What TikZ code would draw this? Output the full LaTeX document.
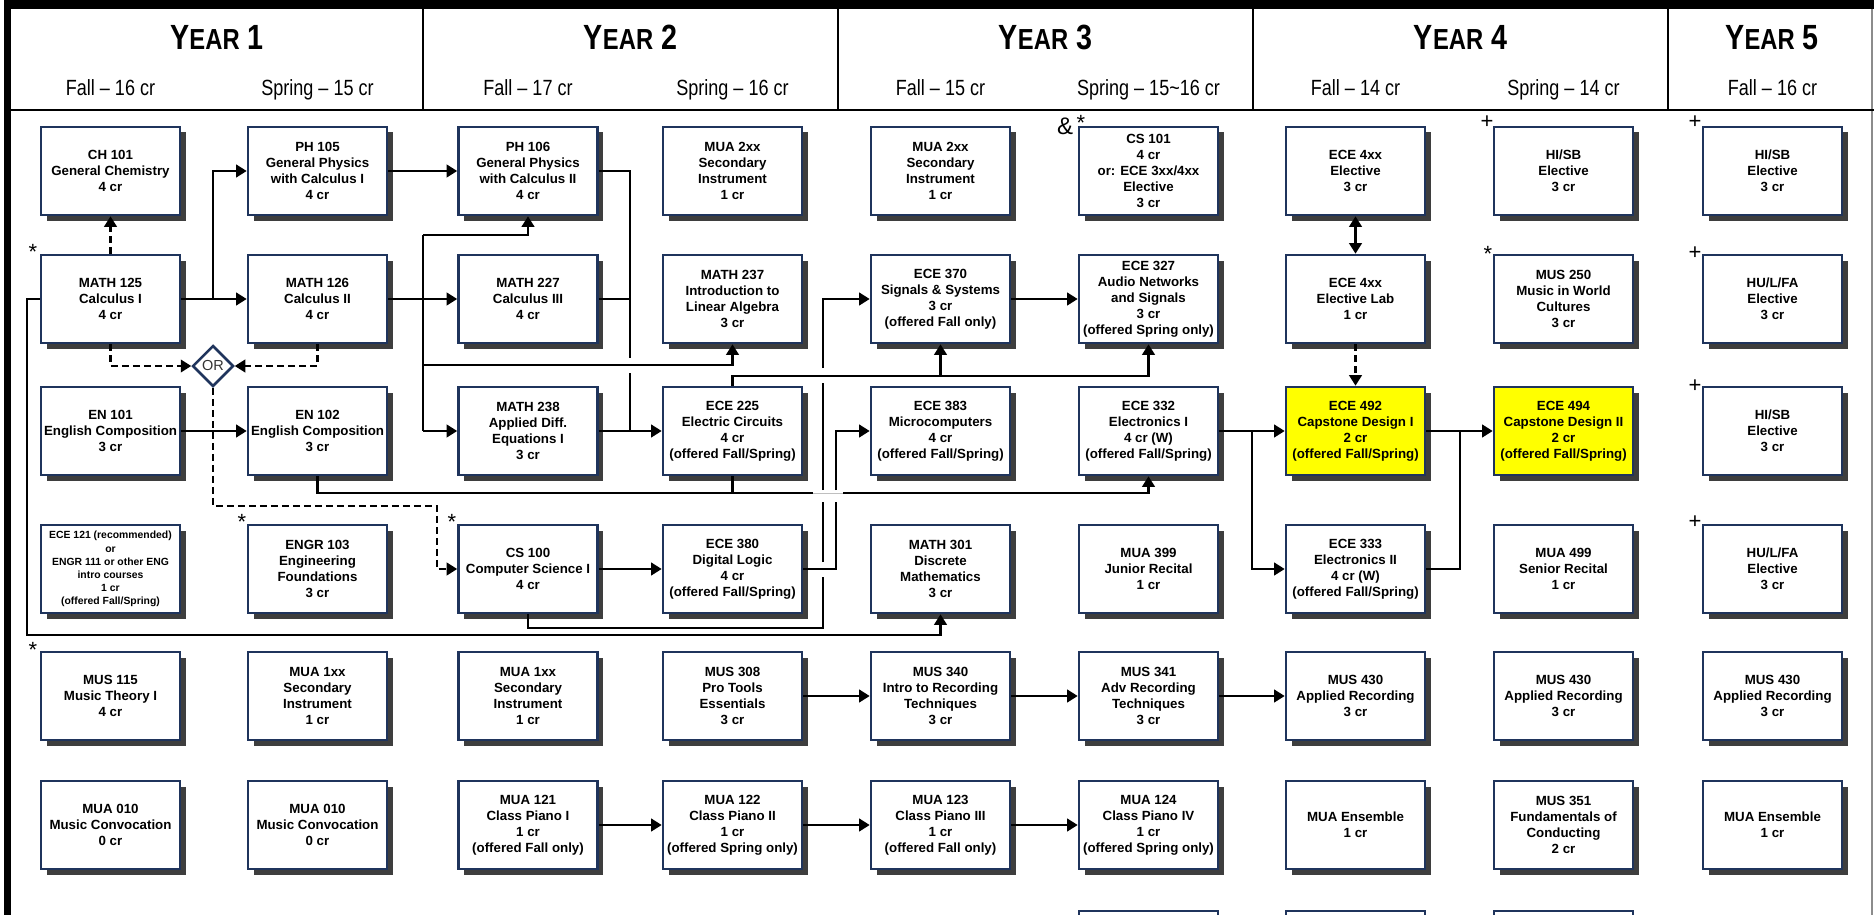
\documentclass[tikz,border=0pt]{standalone}
\usepackage{fontspec}
\usetikzlibrary{arrows.meta,shadows,shapes.geometric}
\newfontfamily\sansf{Liberation Sans}
\newfontfamily\narrowf[FakeStretch=0.82]{Liberation Sans}
\definecolor{navy}{RGB}{31,52,92}
\definecolor{shadowgray}{RGB}{62,62,62}
\definecolor{capyellow}{RGB}{255,255,0}
\newcommand\bxfont{\sansf\bfseries\fontsize{13.3}{16}\selectfont}
\newcommand\smfont{\sansf\bfseries\fontsize{10.4}{13.1}\selectfont}
\newcommand\yr[1]{{\fontsize{35}{35}\selectfont Y}{\fontsize{29}{29}\selectfont EAR}\hspace{8pt}{\fontsize{35}{35}\selectfont #1}}
\begin{document}
\begin{tikzpicture}[x=1pt,y=-1pt,
  course/.style={draw=navy, line width=2.6pt, fill=white, minimum width=139pt, minimum height=88pt,
    inner sep=0pt, align=center, font=\bxfont,
    drop shadow={shadow xshift=5.5pt, shadow yshift=-5.5pt, fill=shadowgray, opacity=1}},
  capstone/.style={course, fill=capyellow},
  ordiamond/.style={diamond, draw=navy, line width=2.5pt, fill=white, minimum width=41pt, minimum height=41pt,
    inner sep=0pt, font=\sansf\fontsize{14.5}{14.5}\selectfont, text=black!80},
  conn/.style={line width=2.3pt, draw=black},
  arr/.style={-{Triangle[length=10.5pt,width=12.5pt]}},
  dblarr/.style={{Triangle[length=10.5pt,width=12.5pt]}-{Triangle[length=10.5pt,width=12.5pt]}},
  dconn/.style={conn, dash pattern=on 7pt off 4pt},
  gapline/.style={line width=1pt, draw=black!25},
  yeartitle/.style={anchor=base, inner sep=0pt, font=\narrowf\bfseries},
  semlabel/.style={anchor=base, inner sep=0pt, font=\narrowf\fontsize{22}{22}\selectfont},
  annot/.style={anchor=base, inner sep=0pt, font=\sansf\fontsize{22}{22}\selectfont},
]
\useasboundingbox (0,0) rectangle (1874,915);
\fill[white] (0,0) rectangle (1874,915);

% ---------- frame and header ----------
\fill[black] (4,0) rectangle (1874,9);
\fill[black] (4,0) rectangle (11,915);
\draw[line width=1.2pt, black!45] (1872,9) -- (1872,915);
\draw[line width=2.5pt] (11,110) -- (1874,110);
\foreach \sx in {423,838,1253,1668} \draw[line width=2pt] (\sx,9) -- (\sx,110);

\node[yeartitle] (yr1) at (217,50) {\yr{1}};
\node[yeartitle] (yr2) at (630.5,50) {\yr{2}};
\node[yeartitle] (yr3) at (1045.5,50) {\yr{3}};
\node[yeartitle] (yr4) at (1460.5,50) {\yr{4}};
\node[yeartitle] (yr5) at (1772,50) {\yr{5}};

\node[semlabel] (sem1) at (110.5,96) {Fall – 16 cr};
\node[semlabel] (sem2) at (317.5,96) {Spring – 15 cr};
\node[semlabel] (sem3) at (528,96) {Fall – 17 cr};
\node[semlabel] (sem4) at (732.5,96) {Spring – 16 cr};
\node[semlabel] (sem5) at (940.5,96) {Fall – 15 cr};
\node[semlabel] (sem6) at (1148.5,96) {Spring – 15\textasciitilde 16 cr};
\node[semlabel] (sem7) at (1355.5,96) {Fall – 14 cr};
\node[semlabel] (sem8) at (1563.5,96) {Spring – 14 cr};
\node[semlabel] (sem9) at (1772.5,96) {Fall – 16 cr};

% ---------- column 1 ----------
\node[course] (ch101) at (110.5,171) {CH 101\\General Chemistry\\4 cr};
\node[course] (m125) at (110.5,299) {MATH 125\\Calculus I\\4 cr};
\node[course] (en101) at (110.5,431) {EN 101\\English Composition\\3 cr};
\node[course, font=\smfont] (ece121) at (110.5,569) {ECE 121 (recommended)\\or\\ENGR 111 or other ENG\\intro courses\\1 cr\\(offered Fall/Spring)};
\node[course] (mus115) at (110.5,696) {MUS 115\\Music Theory I\\4 cr};
\node[course] (mua010a) at (110.5,825) {MUA 010\\Music Convocation\\0 cr};

% ---------- column 2 ----------
\node[course] (ph105) at (317.5,171) {PH 105\\General Physics\\with Calculus I\\4 cr};
\node[course] (m126) at (317.5,299) {MATH 126\\Calculus II\\4 cr};
\node[course] (en102) at (317.5,431) {EN 102\\English Composition\\3 cr};
\node[course] (engr103) at (317.5,569) {ENGR 103\\Engineering\\Foundations\\3 cr};
\node[course] (mua1a) at (317.5,696) {MUA 1xx\\Secondary\\Instrument\\1 cr};
\node[course] (mua010b) at (317.5,825) {MUA 010\\Music Convocation\\0 cr};

% ---------- column 3 ----------
\node[course] (ph106) at (528,171) {PH 106\\General Physics\\with Calculus II\\4 cr};
\node[course] (m227) at (528,299) {MATH 227\\Calculus III\\4 cr};
\node[course] (m238) at (528,431) {MATH 238\\Applied Diff.\\Equations I\\3 cr};
\node[course] (cs100) at (528,569) {CS 100\\Computer Science I\\4 cr};
\node[course] (mua1b) at (528,696) {MUA 1xx\\Secondary\\Instrument\\1 cr};
\node[course] (mua121) at (528,825) {MUA 121\\Class Piano I\\1 cr\\(offered Fall only)};

% ---------- column 4 ----------
\node[course] (mua2a) at (732.5,171) {MUA 2xx\\Secondary\\Instrument\\1 cr};
\node[course] (m237) at (732.5,299) {MATH 237\\Introduction to\\Linear Algebra\\3 cr};
\node[course] (ece225) at (732.5,431) {ECE 225\\Electric Circuits\\4 cr\\(offered Fall/Spring)};
\node[course] (ece380) at (732.5,569) {ECE 380\\Digital Logic\\4 cr\\(offered Fall/Spring)};
\node[course] (mus308) at (732.5,696) {MUS 308\\Pro Tools\\Essentials\\3 cr};
\node[course] (mua122) at (732.5,825) {MUA 122\\Class Piano II\\1 cr\\(offered Spring only)};

% ---------- column 5 ----------
\node[course] (mua2b) at (940.5,171) {MUA 2xx\\Secondary\\Instrument\\1 cr};
\node[course] (ece370) at (940.5,299) {ECE 370\\Signals \& Systems\\3 cr\\(offered Fall only)};
\node[course] (ece383) at (940.5,431) {ECE 383\\Microcomputers\\4 cr\\(offered Fall/Spring)};
\node[course] (m301) at (940.5,569) {MATH 301\\Discrete\\Mathematics\\3 cr};
\node[course] (mus340) at (940.5,696) {MUS 340\\Intro to Recording\\Techniques\\3 cr};
\node[course] (mua123) at (940.5,825) {MUA 123\\Class Piano III\\1 cr\\(offered Fall only)};

% ---------- column 6 ----------
\node[course] (cs101) at (1148.5,171) {CS 101\\4 cr\\or: ECE 3xx/4xx\\Elective\\3 cr};
\node[course] (ece327) at (1148.5,299) {ECE 327\\Audio Networks\\and Signals\\3 cr\\(offered Spring only)};
\node[course] (ece332) at (1148.5,431) {ECE 332\\Electronics I\\4 cr (W)\\(offered Fall/Spring)};
\node[course] (mua399) at (1148.5,569) {MUA 399\\Junior Recital\\1 cr};
\node[course] (mus341) at (1148.5,696) {MUS 341\\Adv Recording\\Techniques\\3 cr};
\node[course] (mua124) at (1148.5,825) {MUA 124\\Class Piano IV\\1 cr\\(offered Spring only)};
\node[course] (c6r7) at (1148.5,955) {};

% ---------- column 7 ----------
\node[course] (ece4a) at (1355.5,171) {ECE 4xx\\Elective\\3 cr};
\node[course] (ece4lab) at (1355.5,299) {ECE 4xx\\Elective Lab\\1 cr};
\node[capstone] (ece492) at (1355.5,431) {ECE 492\\Capstone Design I\\2 cr\\(offered Fall/Spring)};
\node[course] (ece333) at (1355.5,569) {ECE 333\\Electronics II\\4 cr (W)\\(offered Fall/Spring)};
\node[course] (mus430a) at (1355.5,696) {MUS 430\\Applied Recording\\3 cr};
\node[course] (ensa) at (1355.5,825) {MUA Ensemble\\1 cr};
\node[course] (c7r7) at (1355.5,955) {};

% ---------- column 8 ----------
\node[course] (hisb1) at (1563.5,171) {HI/SB\\Elective\\3 cr};
\node[course] (mus250) at (1563.5,299) {MUS 250\\Music in World\\Cultures\\3 cr};
\node[capstone] (ece494) at (1563.5,431) {ECE 494\\Capstone Design II\\2 cr\\(offered Fall/Spring)};
\node[course] (mua499) at (1563.5,569) {MUA 499\\Senior Recital\\1 cr};
\node[course] (mus430b) at (1563.5,696) {MUS 430\\Applied Recording\\3 cr};
\node[course] (mus351) at (1563.5,825) {MUS 351\\Fundamentals of\\Conducting\\2 cr};
\node[course] (c8r7) at (1563.5,955) {};

% ---------- column 9 ----------
\node[course] (hisb2) at (1772.5,171) {HI/SB\\Elective\\3 cr};
\node[course] (hulfa1) at (1772.5,299) {HU/L/FA\\Elective\\3 cr};
\node[course] (hisb3) at (1772.5,431) {HI/SB\\Elective\\3 cr};
\node[course] (hulfa2) at (1772.5,569) {HU/L/FA\\Elective\\3 cr};
\node[course] (mus430c) at (1772.5,696) {MUS 430\\Applied Recording\\3 cr};
\node[course] (ensb) at (1772.5,825) {MUA Ensemble\\1 cr};

% ---------- annotations ----------
\node[annot] (s1) at (33,259) {*};
\node[annot] (s2) at (242,529) {*};
\node[annot] (s3) at (452,529) {*};
\node[annot] (s4) at (33,657) {*};
\node[annot, font=\sansf\fontsize{24}{24}\selectfont] (amp) at (1065,135) {\&};
\node[annot] (s5) at (1081,131) {*};
\node[annot] (s6) at (1488,261) {*};
\node[annot] (p1) at (1487,129) {+};
\node[annot] (p2) at (1695,129) {+};
\node[annot] (p3) at (1695,259) {+};
\node[annot] (p4) at (1695,392) {+};
\node[annot] (p5) at (1695,528) {+};

% ---------- OR ----------
\node[ordiamond] (or) at (213,366) {OR};

% ---------- junction coordinates ----------
\coordinate (j1) at (213,299);
\coordinate (j2) at (423,299);
\coordinate (k1) at (423,235);
\coordinate (k2) at (423,365);
\coordinate (k3) at (423,431);
\coordinate (d1) at (213,506);
\coordinate (d2) at (437,506);
\coordinate (d3) at (437,569);
\coordinate (g1) at (813,493);
\coordinate (g2) at (843,493);
\coordinate (v1) at (630,358);
\coordinate (v2) at (630,373);
\coordinate (h1) at (732.5,376);
\coordinate (q0) at (823,628);
\coordinate (q1) at (823,577);
\coordinate (q2) at (823,562);
\coordinate (q3) at (823,502);
\coordinate (q4) at (823,490);
\coordinate (q5) at (823,383);
\coordinate (q6) at (823,368);
\coordinate (q7) at (823,299);
\coordinate (r1) at (836,569);
\coordinate (r2) at (836,502);
\coordinate (r3) at (836,490);
\coordinate (r4) at (836,431);
\coordinate (e1) at (1252,431);
\coordinate (e2) at (1460,431);
\coordinate (l1) at (27,299);
\coordinate (l2) at (27,635);

% ---------- connectors ----------
\draw[dconn,arr] (m125.north) -- (ch101.south);
\draw[conn,arr] (m125.east) -- (m126.west);
\draw[conn,arr] (j1) |- (ph105.west);
\draw[conn,arr] (ph105.east) -- (ph106.west);
\draw[conn,arr] (m126.east) -- (m227.west);
\draw[conn] (k1) -- (k3);
\draw[conn,arr] (k1) -| (ph106.south);
\draw[conn,arr] (k2) -| (m237.south);
\draw[conn,arr] (k3) -- (m238.west);
\draw[conn,arr] (en101.east) -- (en102.west);

\draw[dconn,arr] (m125.south) |- (or.west);
\draw[dconn,arr] (m126.south) |- (or.east);
\draw[dconn,arr] (or.south) -- (d1) -- (d2) -- (d3) -- (cs100.west);

\draw[conn] (en102.south) |- (g1);
\draw[gapline] (g1) -- (g2);
\draw[conn,arr] (g2) -| (ece332.south);
\draw[conn] (ece225.south) -- (ece225.south |- g1);

\draw[conn] (ph106.east) -| (v1);
\draw[conn,arr] (v2) |- (ece225.west);
\draw[conn] (m227.east) -- (m227.east -| v1);
\draw[conn] (m238.east) -- (m238.east -| v1);

\draw[conn,arr] (ece225.north) -- (h1) -| (ece327.south);
\draw[conn,arr] (ece370.south |- h1) -- (ece370.south);

\draw[conn] (cs100.south) |- (q0) -- (q1);
\draw[conn] (q2) -- (q3);
\draw[conn] (q4) -- (q5);
\draw[conn,arr] (q6) -- (q7) -- (ece370.west);

\draw[conn] (ece380.east) -- (r1) -- (r2);
\draw[conn,arr] (r3) -- (r4) -- (ece383.west);

\draw[conn,arr] (cs100.east) -- (ece380.west);
\draw[conn,arr] (ece370.east) -- (ece327.west);
\draw[conn,arr] (ece332.east) -- (ece492.west);
\draw[conn,arr] (e1) |- (ece333.west);
\draw[conn,arr] (ece492.east) -- (ece494.west);
\draw[conn] (ece333.east) -| (e2);
\draw[conn,dblarr] (ece4a.south) -- (ece4lab.north);
\draw[dconn,arr] (ece4lab.south) -- (ece492.north);

\draw[conn,arr] (m125.west) -- (l1) -- (l2) -| (m301.south);

\draw[conn,arr] (mus308.east) -- (mus340.west);
\draw[conn,arr] (mus340.east) -- (mus341.west);
\draw[conn,arr] (mus341.east) -- (mus430a.west);
\draw[conn,arr] (mua121.east) -- (mua122.west);
\draw[conn,arr] (mua122.east) -- (mua123.west);
\draw[conn,arr] (mua123.east) -- (mua124.west);
\end{tikzpicture}
\end{document}
